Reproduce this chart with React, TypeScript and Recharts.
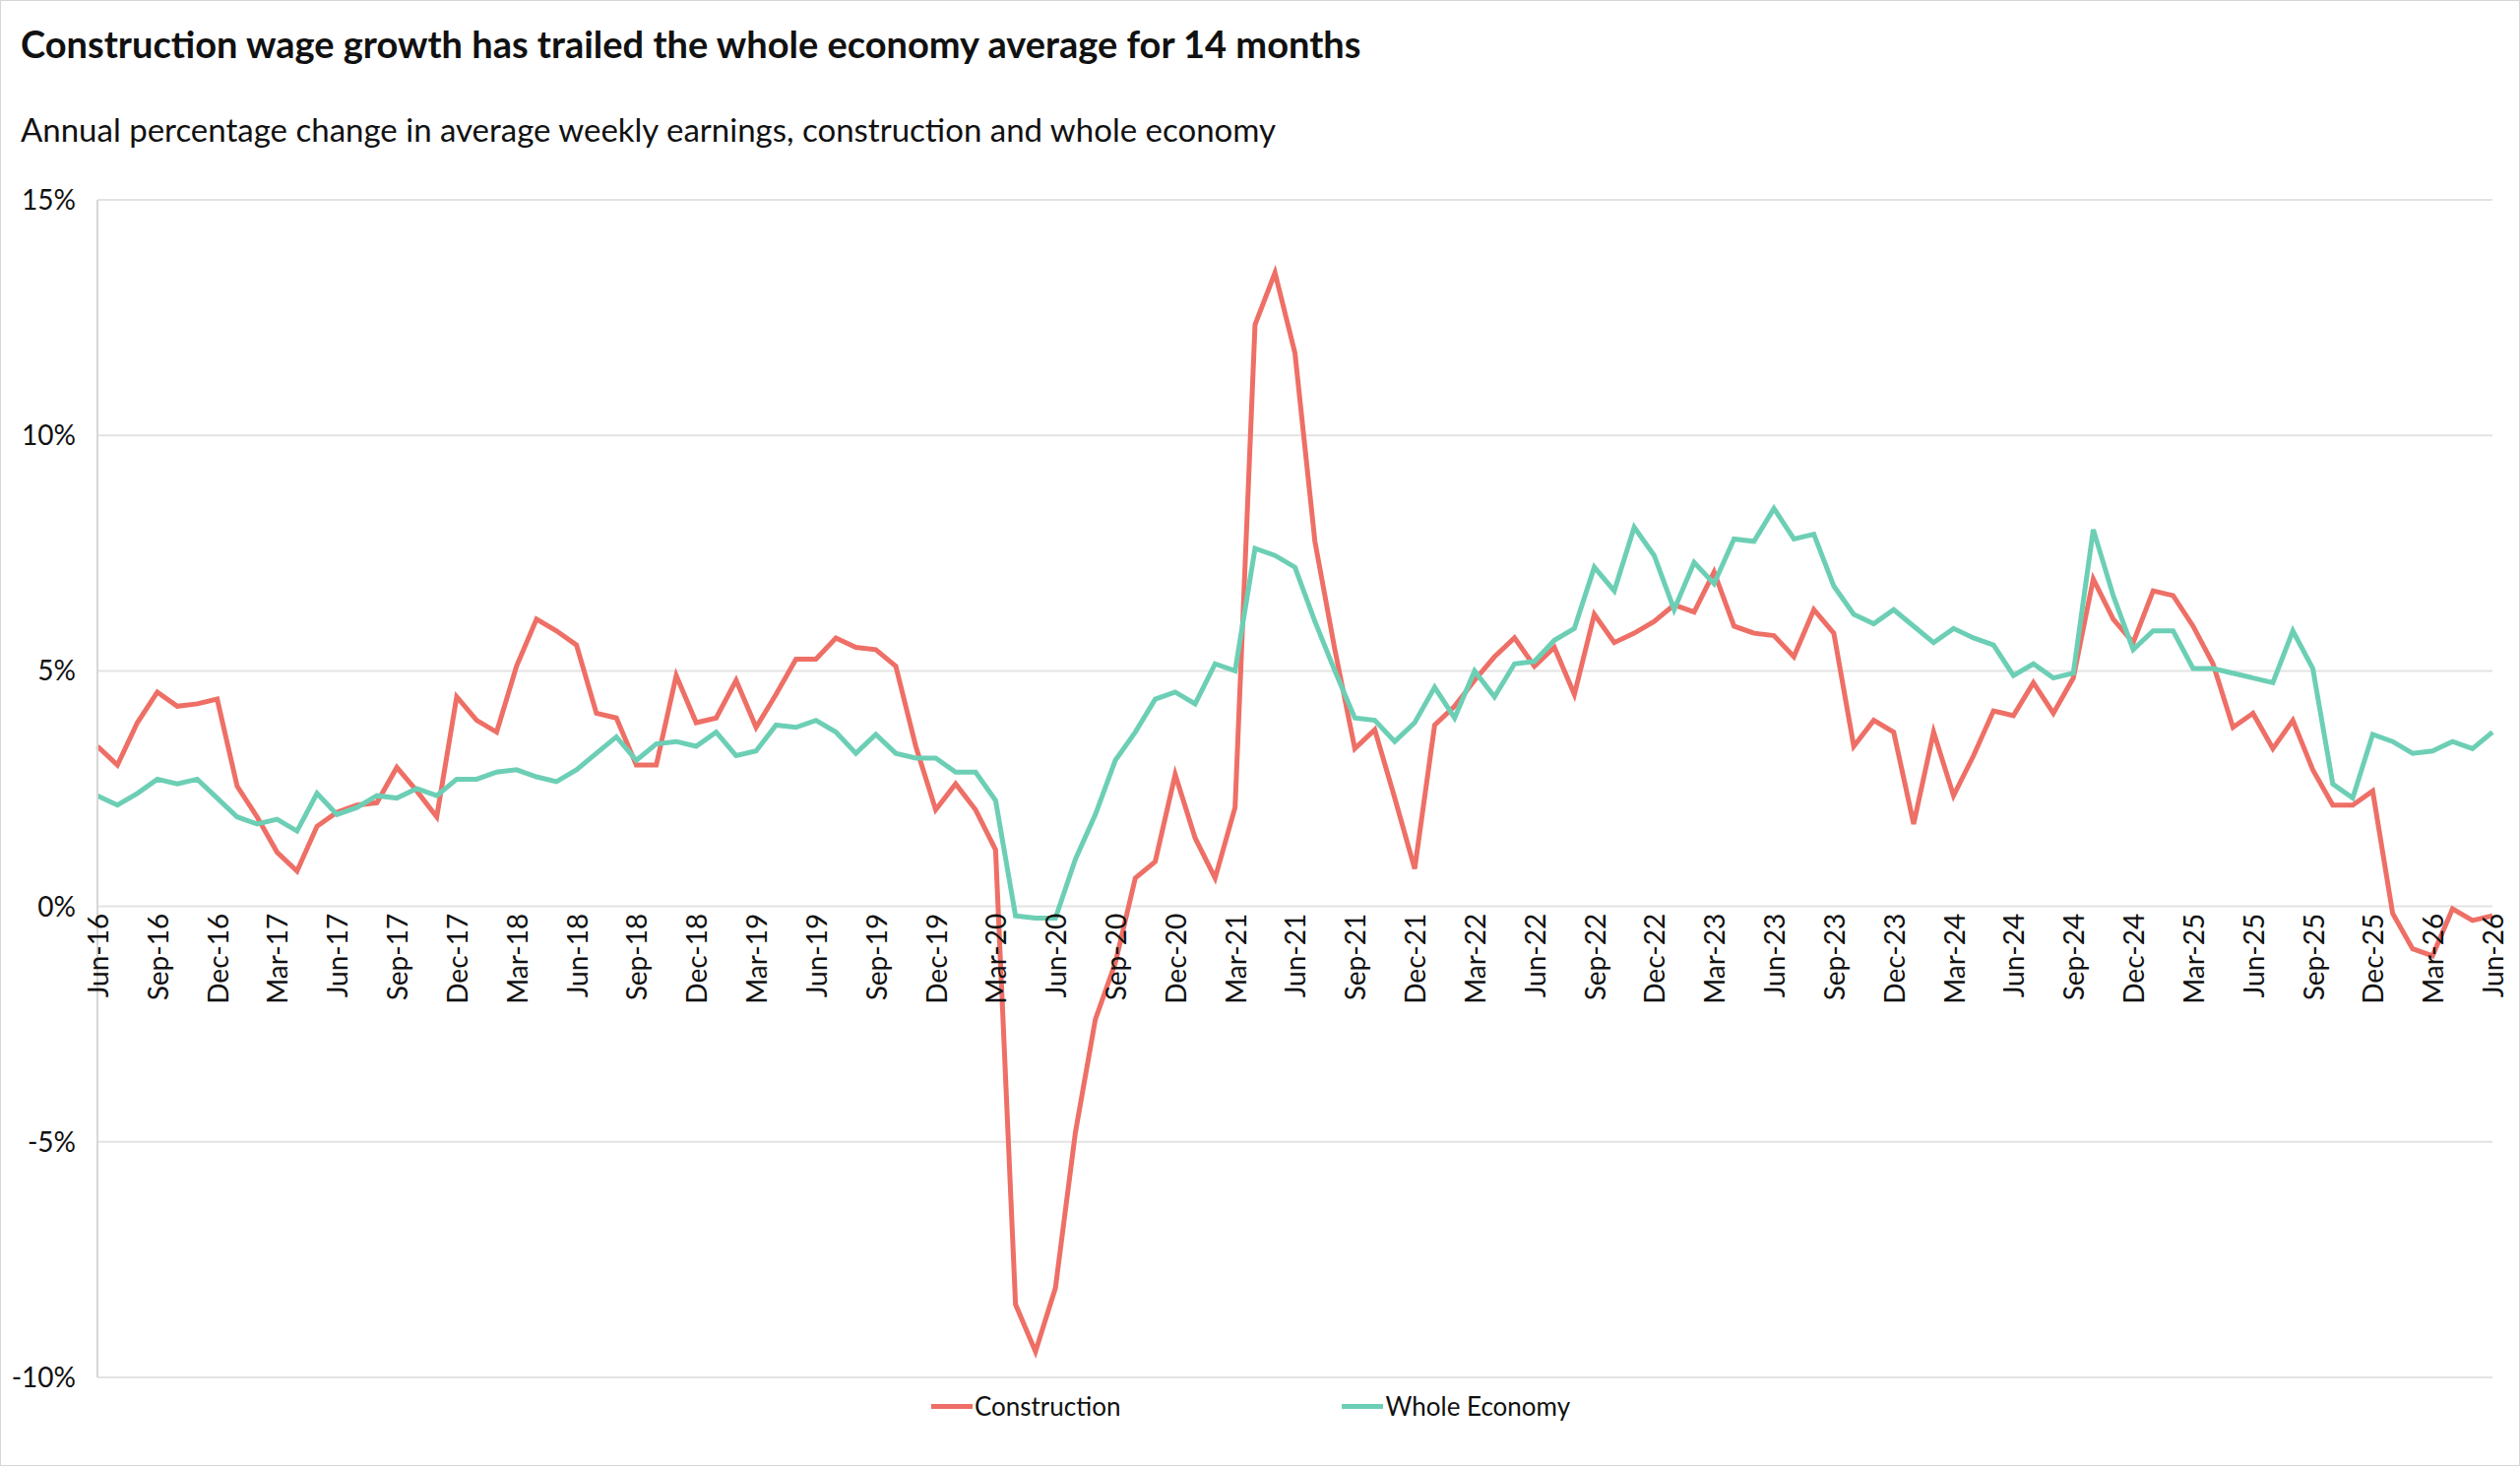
import React from "react";
import { LineChart, Line, XAxis, YAxis, CartesianGrid, Legend } from "recharts";

const months = ["Jan", "Feb", "Mar", "Apr", "May", "Jun", "Jul", "Aug", "Sep", "Oct", "Nov", "Dec"];

// Jun-16 .. Jun-26
const construction = [
  3.4, 3.0, 3.9, 4.55, 4.25, 4.3, 4.4,
  2.55, 1.9, 1.15, 0.75, 1.7, 2.0, 2.15, 2.2, 2.95, 2.45, 1.9, 4.45,
  3.95, 3.7, 5.1, 6.1, 5.85, 5.55, 4.1, 4.0, 3.0, 3.0, 4.9, 3.9,
  4.0, 4.8, 3.8, 4.5, 5.25, 5.25, 5.7, 5.5, 5.45, 5.1, 3.4, 2.05,
  2.6, 2.05, 1.2, -8.45, -9.45, -8.1, -4.8, -2.4, -1.2, 0.6, 0.95, 2.8,
  1.45, 0.6, 2.1, 12.35, 13.45, 11.75, 7.75, 5.45, 3.35, 3.75, 2.3, 0.8,
  3.85, 4.25, 4.8, 5.3, 5.7, 5.1, 5.5, 4.5, 6.2, 5.6, 5.8, 6.05,
  6.4, 6.25, 7.1, 5.95, 5.8, 5.75, 5.3, 6.3, 5.8, 3.4, 3.95, 3.7,
  1.75, 3.7, 2.35, 3.2, 4.15, 4.05, 4.75, 4.1, 4.85, 6.95, 6.1, 5.6,
  6.7, 6.6, 5.95, 5.15, 3.8, 4.1, 3.35, 3.95, 2.9, 2.15, 2.15, 2.45,
  -0.15, -0.9, -1.05, -0.05, -0.3, -0.2,
];

const wholeEconomy = [
  2.35, 2.15, 2.4, 2.7, 2.6, 2.7, 2.3,
  1.9, 1.75, 1.85, 1.6, 2.4, 1.95, 2.1, 2.35, 2.3, 2.5, 2.35, 2.7,
  2.7, 2.85, 2.9, 2.75, 2.65, 2.9, 3.25, 3.6, 3.1, 3.45, 3.5, 3.4,
  3.7, 3.2, 3.3, 3.85, 3.8, 3.95, 3.7, 3.25, 3.65, 3.25, 3.15, 3.15,
  2.85, 2.85, 2.25, -0.2, -0.25, -0.25, 1.0, 1.95, 3.1, 3.7, 4.4, 4.55,
  4.3, 5.15, 5.0, 7.6, 7.45, 7.2, 6.05, 5.0, 4.0, 3.95, 3.5, 3.9,
  4.65, 4.0, 5.0, 4.45, 5.15, 5.2, 5.65, 5.9, 7.2, 6.7, 8.05, 7.45,
  6.3, 7.3, 6.85, 7.8, 7.75, 8.45, 7.8, 7.9, 6.8, 6.2, 6.0, 6.3,
  5.95, 5.6, 5.9, 5.7, 5.55, 4.9, 5.15, 4.85, 4.95, 8.0, 6.6, 5.45,
  5.85, 5.85, 5.05, 5.05, 4.95, 4.85, 4.75, 5.85, 5.05, 2.6, 2.3, 3.65,
  3.5, 3.25, 3.3, 3.5, 3.35, 3.7,
];

const yTicks = [-10, -5, 0, 5, 10, 15];

const data = construction.map((c, i) => {
  const m = 5 + i;
  const label = `${months[m % 12]}-${16 + Math.floor(m / 12)}`;
  return { month: label, construction: c, whole: wholeEconomy[i] };
});

const W = 2560;
const H = 1489;
const X_H = 1;
const M = { top: 202, right: 29, bottom: 58, left: 8 };
const yMin = -10;
const yMax = 15;
const plotH = H - M.top - M.bottom - X_H;
const zeroOffset = (plotH * (0 - yMin)) / (yMax - yMin); // distance from axis bottom to 0%

const RED = "#EE6F66";
const TEAL = "#6CCFB5";
const FONT = "Lato, 'Open Sans', sans-serif";

const MonthTick = (props: any) => {
  const { x, y, payload } = props;
  const ty = y - zeroOffset + 12;
  return (
    <text
      x={x}
      y={ty}
      transform={`rotate(-90, ${x}, ${ty})`}
      textAnchor="end"
      dominantBaseline="central"
      fontSize={28}
      fill="#111"
      fontFamily={FONT}
    >
      {payload.value}
    </text>
  );
};

const LegendContent = () => (
  <div style={{ display: "flex", justifyContent: "center", gap: 225, fontFamily: FONT, fontSize: 26, color: "#111" }}>
    {[
      { name: "Construction", color: RED },
      { name: "Whole Economy", color: TEAL },
    ].map((it) => (
      <div key={it.name} style={{ display: "flex", alignItems: "center" }}>
        <span style={{ display: "inline-block", width: 42, height: 5, background: it.color, marginRight: 2 }} />
        {it.name}
      </div>
    ))}
  </div>
);

export default function App() {
  return (
    <div
      style={{
        position: "absolute",
        left: 0,
        top: 0,
        width: W - 2,
        height: H - 2,
        border: "1px solid #d6d6d6",
        background: "#fff",
        fontFamily: FONT,
      }}
    >
      <div style={{ position: "absolute", left: 20, top: 20, fontSize: 38, fontWeight: 700, color: "#111" }}>
        Construction wage growth has trailed the whole economy average for 14 months
      </div>
      <div style={{ position: "absolute", left: 20, top: 110, fontSize: 33, color: "#111" }}>
        Annual percentage change in average weekly earnings, construction and whole economy
      </div>
      <div style={{ position: "absolute", left: 0, top: 0 }}>
        <LineChart width={W} height={H} data={data} margin={M}>
          <CartesianGrid vertical={false} stroke="#e3e3e3" strokeWidth={2} />
          <XAxis
            dataKey="month"
            height={X_H}
            interval={2}
            axisLine={false}
            tickLine={false}
            tick={(p: any) => <MonthTick {...p} />}
          />
          <YAxis
            domain={[yMin, yMax]}
            ticks={yTicks}
            width={90}
            tickFormatter={(v) => `${v}%`}
            tickLine={false}
            axisLine={{ stroke: "#d6d6d6", strokeWidth: 2 }}
            tick={{ fontSize: 28, fill: "#111", fontFamily: FONT }}
            tickMargin={16}
          />
          <Legend verticalAlign="bottom" wrapperStyle={{ bottom: 46 }} content={<LegendContent />} />
          <Line
            dataKey="construction"
            name="Construction"
            stroke={RED}
            strokeWidth={5}
            dot={false}
            isAnimationActive={false}
          />
          <Line
            dataKey="whole"
            name="Whole Economy"
            stroke={TEAL}
            strokeWidth={5}
            dot={false}
            isAnimationActive={false}
          />
        </LineChart>
      </div>
    </div>
  );
}
